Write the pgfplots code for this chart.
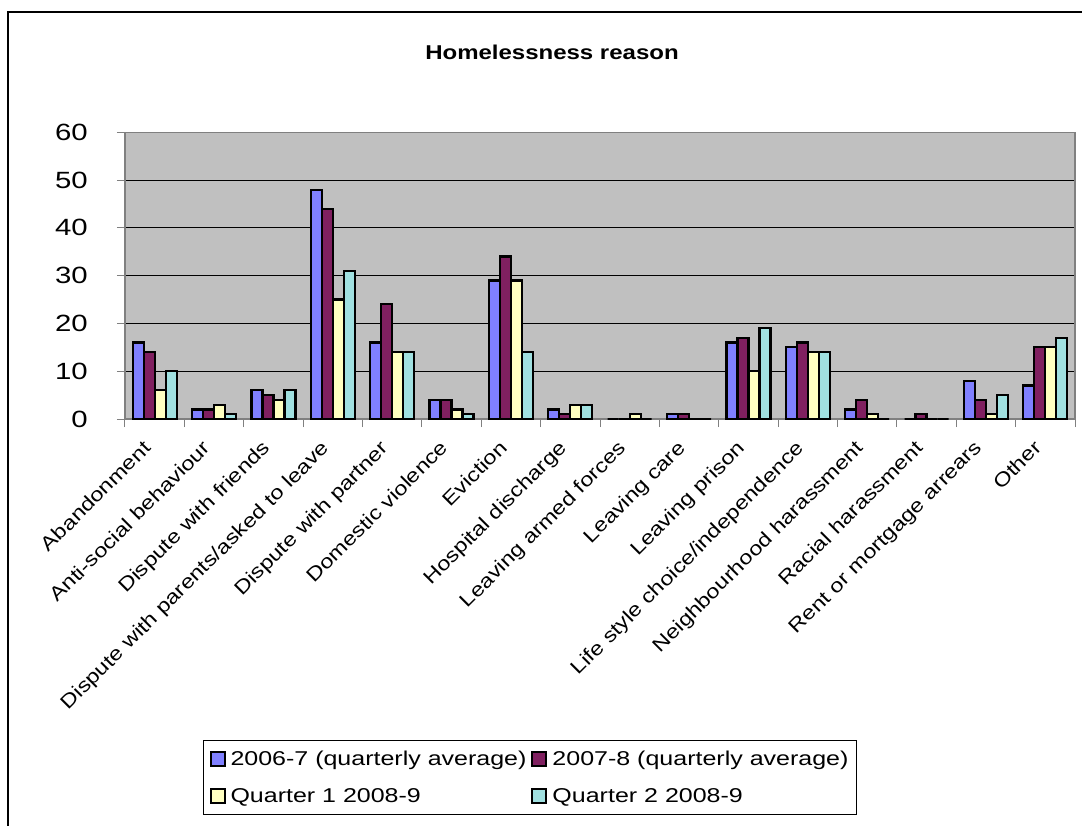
\documentclass[border=0pt]{standalone}
\usepackage{fontspec}
\setmainfont{Liberation Sans}[FakeStretch=1.25]
\newfontfamily\lblfont{Liberation Sans}[FakeStretch=1.2]
\usepackage{pgfplots}
\pgfplotsset{compat=1.18}
\definecolor{cA}{HTML}{8080FF}
\definecolor{cB}{HTML}{802060}
\definecolor{cC}{HTML}{FFFFC0}
\definecolor{cD}{HTML}{A0E0E0}
\definecolor{bg}{HTML}{C0C0C0}
\definecolor{ax}{HTML}{808080}
\begin{document}
\begin{tikzpicture}
\useasboundingbox (0pt,0pt) rectangle (1082pt,-825pt);
\draw[line width=1.2pt] (8pt,-830pt) -- (8pt,-12pt) -- (1090pt,-12pt);
\node[font=\lblfont\bfseries\fontsize{20}{23}\selectfont] at (552pt,-52pt) {Homelessness reason};
\begin{axis}[
  at={(125pt,-419pt)}, anchor=south west,
  scale only axis, width=950pt, height=286.7pt,
  xmin=-0.5, xmax=15.5, ymin=0, ymax=60,
  ybar=0pt, bar width=11pt,
  every axis plot post/.append style={legend image code/.code={\draw[##1,line width=2pt] (0pt,-7pt) rectangle (14pt,7pt);}},
  axis background/.style={fill=bg},
  axis line style={draw=ax, line width=1.5pt},
  ymajorgrids, grid style={black, line width=1pt},
  ytick={0,10,...,60},
  xtick={-0.5,0.5,1.5,2.5,3.5,4.5,5.5,6.5,7.5,8.5,9.5,10.5,11.5,12.5,13.5,14.5,15.5},
  xticklabels={Abandonment,Anti-social behaviour,Dispute with friends,Dispute with parents/asked to leave,Dispute with partner,Domestic violence,Eviction,Hospital discharge,Leaving armed forces,Leaving care,Leaving prison,Life style choice/independence,Neighbourhood harassment,Racial harassment,Rent or mortgage arrears,Other,{}},
  tick align=outside, major tick length=8pt,
  tick style={draw=ax, line width=1pt},
  xtick pos=bottom, ytick pos=left,
  /pgf/number format/assume math mode=true,
  yticklabel style={font=\fontsize{23.5}{26}\selectfont, inner sep=0pt, xshift=-29pt},
  xticklabel style={font=\lblfont\fontsize{19.5}{22}\selectfont, inner sep=0pt, xshift=17pt, yshift=-12pt, rotate=45, anchor=north east},
  legend columns=2,
  legend style={at={(0.0821,-1.1196)}, anchor=north west, draw=black, line width=1pt, fill=white,
    font=\fontsize{20}{23}\selectfont, inner xsep=6pt, inner ysep=9pt, row sep=17pt, column sep=3pt,
    nodes={inner sep=2pt, anchor=west}},
  legend cell align=left,
]
\addplot[fill=cA, draw=black, line width=2.2pt] coordinates {(0,16) (1,2) (2,6) (3,48) (4,16) (5,4) (6,29) (7,2) (8,0) (9,1) (10,16) (11,15) (12,2) (13,0) (14,8) (15,7)};
\addplot[fill=cB, draw=black, line width=2.2pt] coordinates {(0,14) (1,2) (2,5) (3,44) (4,24) (5,4) (6,34) (7,1) (8,0) (9,1) (10,17) (11,16) (12,4) (13,1) (14,4) (15,15)};
\addplot[fill=cC, draw=black, line width=2.2pt] coordinates {(0,6) (1,3) (2,4) (3,25) (4,14) (5,2) (6,29) (7,3) (8,1) (9,0) (10,10) (11,14) (12,1) (13,0) (14,1) (15,15)};
\addplot[fill=cD, draw=black, line width=2.2pt] coordinates {(0,10) (1,1) (2,6) (3,31) (4,14) (5,1) (6,14) (7,3) (8,0) (9,0) (10,19) (11,14) (12,0) (13,0) (14,5) (15,17)};
\legend{2006-7 (quarterly average),2007-8 (quarterly average),Quarter 1 2008-9,Quarter 2 2008-9}
\end{axis}
\end{tikzpicture}
\end{document}
